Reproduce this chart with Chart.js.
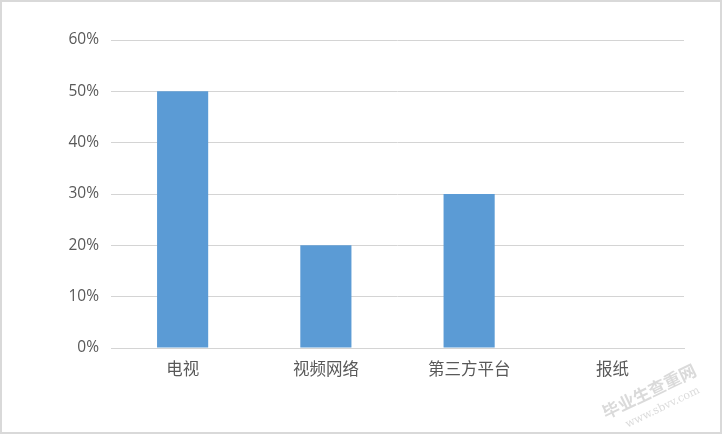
<!DOCTYPE html>
<html>
<head>
<meta charset="utf-8">
<script src="https://cdn.jsdelivr.net/npm/chart.js@4/dist/chart.umd.min.js"></script>
<style>
  html, body { margin: 0; padding: 0; background: #fff; }
  #wrap { width: 722px; height: 434px; box-sizing: border-box; border: 2px solid #d9d9d9; position: relative; }
  canvas { display: block; }
</style>
</head>
<body>
<div id="wrap"><canvas id="chart" width="718" height="430"></canvas></div>
<script>
const categories = ["电视", "视频网络", "第三方平台", "报纸"];
const shares = [50, 20, 30, 0];
const yTicks = [0, 10, 20, 30, 40, 50, 60];

// faint watermark in the bottom-right corner
const watermark = {
    id: "watermark",
    afterDraw(chart) {
        const ctx = chart.ctx;
        ctx.save();
        ctx.translate(650, 395);
        ctx.rotate(-0.45);
        ctx.fillStyle = "rgba(150,150,150,0.35)";
        ctx.textAlign = "center";
        ctx.font = "bold 17px 'Noto Sans CJK SC'";
        ctx.fillText("毕业生查重网", 0, 0);
        ctx.font = "11px 'DejaVu Serif'";
        ctx.fillText("www.sbvv.com", 5, 17);
        ctx.restore();
    }
};

const ctx1 = document.getElementById("chart").getContext("2d");
new Chart(ctx1, {
    type: "bar",
    data: {
        labels: categories,
        datasets: [{
            data: shares,
            backgroundColor: "#5b9bd5",
            categoryPercentage: 1,
            barPercentage: 0.357
        }]
    },
    options: {
        responsive: false,
        animation: false,
        layout: { padding: { top: 38, right: 36, left: 0, bottom: 0 } },
        plugins: {
            legend: { display: false },
            tooltip: { enabled: false }
        },
        scales: {
            x: {
                grid: { display: false, drawTicks: false },
                border: { display: true, color: "#d4d4d4", width: 1 },
                ticks: {
                    color: "#595959",
                    padding: 11,
                    font: { family: "'Noto Sans CJK SC'", size: 16.5 }
                },
                afterFit(scale) { scale.height = 84; }
            },
            y: {
                min: 0,
                max: 60,
                afterBuildTicks(scale) { scale.ticks = yTicks.map(v => ({ value: v })); },
                grid: { color: "#d4d4d4", lineWidth: 1, drawTicks: false },
                border: { display: false },
                ticks: {
                    color: "#595959",
                    padding: 12,
                    font: { family: "'Open Sans', 'Noto Sans'", size: 15.5 },
                    callback: v => v + "%"
                },
                afterFit(scale) { scale.width = 109; }
            }
        }
    },
    plugins: [watermark]
});
</script>
</body>
</html>
